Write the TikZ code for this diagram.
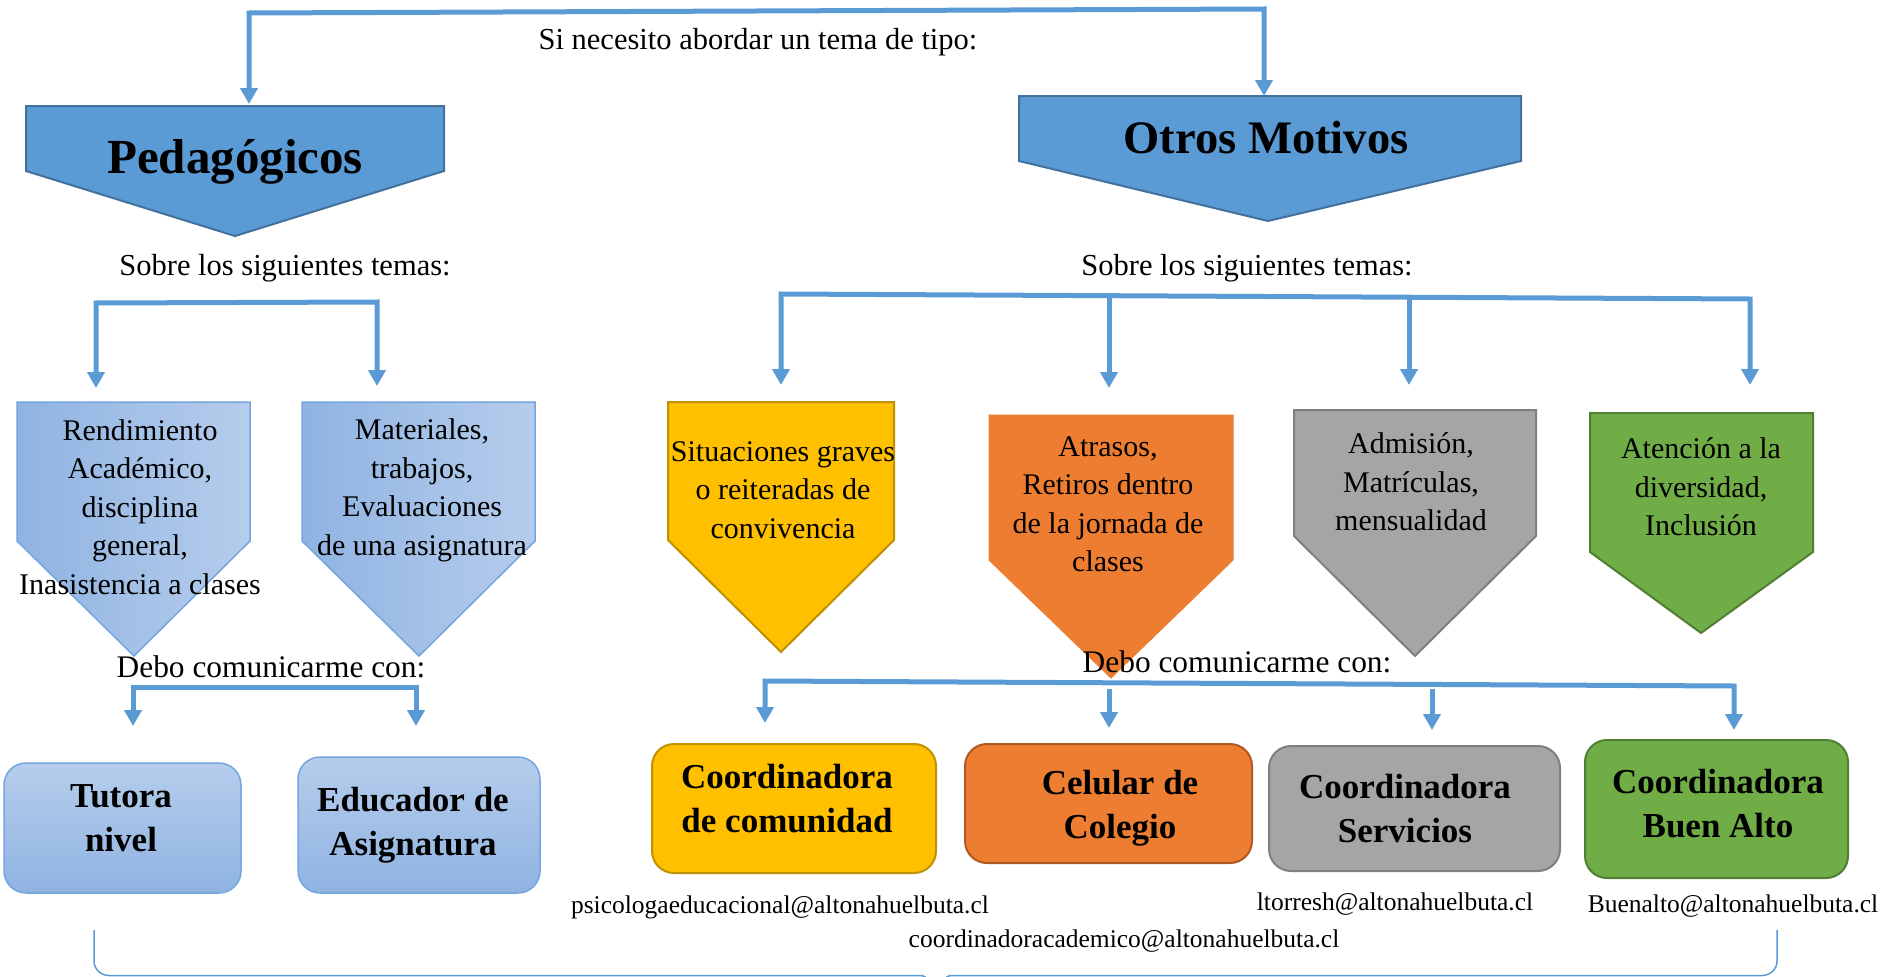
\documentclass[tikz,border=0pt]{standalone}
\usepackage{fontspec}
\setmainfont{Liberation Serif}
\usetikzlibrary{arrows.meta}
\definecolor{acc}{HTML}{5B9BD5}
\definecolor{accD}{HTML}{41719C}
\definecolor{lbA}{HTML}{8FB3E2}
\definecolor{lbB}{HTML}{B6CDEC}
\definecolor{lbE}{HTML}{74A5DE}
\definecolor{yel}{HTML}{FFC000}
\definecolor{yelD}{HTML}{BF9000}
\definecolor{ora}{HTML}{ED7D31}
\definecolor{oraD}{HTML}{AE5A21}
\definecolor{gry}{HTML}{A5A5A5}
\definecolor{gryD}{HTML}{7F7F7F}
\definecolor{grn}{HTML}{70AD47}
\definecolor{grnD}{HTML}{507E32}
\newcommand\fsz[2]{\fontsize{#1}{#2}\selectfont}
\begin{document}
\begin{tikzpicture}[x=1pt,y=-1pt,
  conn/.style={draw=acc,line width=5pt},
  tip/.tip={Triangle[width=17pt,length=16pt]},
  arr/.style={conn,-tip},
  arrb/.style={conn,tip-tip},
  lbl/.style={inner sep=0pt,anchor=base,font=\fsz{30.5}{37}},
  ptext/.style={inner sep=0pt,align=center,font=\fsz{30}{38.5}},
  btext/.style={inner sep=0pt,align=center,font=\fsz{35}{44}\bfseries},
  mail/.style={inner sep=0pt,anchor=base,font=\fsz{25.5}{30}},
  rbox/.style={rounded corners=22pt,line width=2pt,inner sep=0pt},
  lgrad/.style={left color=lbA,right color=lbB,draw=lbE,line width=1.5pt},
]
\useasboundingbox (0,0) rectangle (1885,977);
\fill[white] (0,0) rectangle (1885,977);

% header pentagons
\filldraw[fill=acc,draw=accD,line width=2pt] (26,106) -- (444,106) -- (444,171) -- (235,236) -- (26,171) -- cycle;
\filldraw[fill=acc,draw=accD,line width=2pt] (1019,96) -- (1521,96) -- (1521,161) -- (1268,221) -- (1019,161) -- cycle;

% topic pentagons
\path[lgrad] (17,402) -- (250,402) -- (250,541) -- (134,656) -- (17,541) -- cycle;
\path[lgrad] (302,402) -- (535,402) -- (535,541) -- (419,656) -- (302,541) -- cycle;
\filldraw[fill=yel,draw=yelD,line width=2pt] (668,402) -- (894,402) -- (894,540) -- (781,652) -- (668,540) -- cycle;
\filldraw[fill=ora,draw=ora,line width=1pt] (989,415) -- (1233,415) -- (1233,560) -- (1111,678) -- (989,560) -- cycle;
\filldraw[fill=gry,draw=gryD,line width=2pt] (1294,410) -- (1536,410) -- (1536,536) -- (1415,656) -- (1294,536) -- cycle;
\filldraw[fill=grn,draw=grnD,line width=2pt] (1590,413) -- (1813,413) -- (1813,552) -- (1701,633) -- (1590,552) -- cycle;

% contact boxes
\node[rbox,top color=lbB,bottom color=lbA,draw=lbE,line width=1.5pt,minimum width=237pt,minimum height=130pt] (btut) at (122.5,828) {};
\node[rbox,top color=lbB,bottom color=lbA,draw=lbE,line width=1.5pt,minimum width=242pt,minimum height=136pt] (bedu) at (419,825) {};
\node[rbox,fill=yel,draw=yelD,minimum width=284pt,minimum height=129pt] (bcom) at (794,808.5) {};
\node[rbox,fill=ora,draw=oraD,minimum width=287pt,minimum height=119pt] (bcel) at (1108.5,803.5) {};
\node[rbox,fill=gry,draw=gryD,minimum width=291pt,minimum height=125pt] (bser) at (1414.5,808.5) {};
\node[rbox,fill=grn,draw=grnD,minimum width=263pt,minimum height=138pt] (bbue) at (1716.5,809) {};

% connector coordinates
\coordinate (t1) at (249,13);   \coordinate (t2) at (1264,9);
\coordinate (pedA) at (249,104); \coordinate (otrA) at (1264,96);
\coordinate (s1) at (96,303);   \coordinate (s2) at (377,302);
\coordinate (p1A) at (96,388);  \coordinate (p2A) at (377,386);
\coordinate (r1) at (781,294);  \coordinate (r2) at (1109,296);
\coordinate (r3) at (1409,297); \coordinate (r4) at (1750,299);
\coordinate (yA) at (781,385);  \coordinate (oA) at (1109,388);
\coordinate (grA) at (1409,385); \coordinate (gA) at (1750,385);
\coordinate (d1) at (133,687);  \coordinate (d2) at (416,687);
\coordinate (tA) at (133,726);  \coordinate (eA) at (416,726);
\coordinate (e1) at (765,681);  \coordinate (e2) at (1109,689);
\coordinate (e3) at (1432,689); \coordinate (e4) at (1734,686);
\coordinate (cyA) at (765,723); \coordinate (coA) at (1109,728);
\coordinate (csA) at (1432,730); \coordinate (cgA) at (1734,730);

\draw[arrb] (pedA) -- (t1) -- (t2) -- (otrA);
\draw[arrb] (p1A) -- (s1) -- (s2) -- (p2A);
\draw[arrb] (yA) -- (r1) -- (r4) -- (gA);
\draw[arr] (r2) -- (oA);
\draw[arr] (r3) -- (grA);
\draw[arrb] (tA) -- (d1) -- (d2) -- (eA);
\draw[arrb] (cyA) -- (e1) -- (e4) -- (cgA);
\draw[arr] (e2) -- (coA);
\draw[arr] (e3) -- (csA);

% bottom brace
\draw[acc,line width=1.5pt] (94,930) -- (94,961) to[out=-90,in=180] (109,975.5) -- (920,975.5) to[out=0,in=90] (932,992);
\draw[acc,line width=1.5pt] (1777,930) -- (1777,961) to[out=-90,in=0] (1762,975.5) -- (952,975.5) to[out=180,in=90] (940,992);

% texts
\node[lbl] (q) at (758,49) {Si necesito abordar un tema de tipo:};
\node[inner sep=0pt,anchor=base,font=\fsz{49}{52}\bfseries] (ped) at (235,173) {Pedagógicos};
\node[inner sep=0pt,anchor=base,font=\fsz{46.6}{50}\bfseries] (otr) at (1266,153) {Otros Motivos};
\node[lbl] (sobL) at (285,275) {Sobre los siguientes temas:};
\node[lbl] (sobR) at (1247,275) {Sobre los siguientes temas:};
\node[lbl,font=\fsz{31.4}{37}] (debL) at (271,677) {Debo comunicarme con:};
\node[lbl,font=\fsz{31.4}{37}] (debR) at (1237,672) {Debo comunicarme con:};

\node[ptext] (p1t) at (140,507) {Rendimiento\\Académico,\\disciplina\\general,\\Inasistencia a clases};
\node[ptext] (p2t) at (422,490.5) {Materiales,\\trabajos,\\Evaluaciones\\de una asignatura};
\node[ptext] (yt) at (783,490) {Situaciones graves\\o reiteradas de\\convivencia};
\node[ptext] (ot) at (1108,504) {Atrasos,\\Retiros dentro\\de la jornada de\\clases};
\node[ptext] (grt) at (1411,482) {Admisión,\\Matrículas,\\mensualidad};
\node[ptext] (gt) at (1701,487) {Atención a la\\diversidad,\\Inclusión};

\node[btext] (tut) at (121,818.5) {Tutora\\nivel};
\node[btext] (edu) at (413,825) {Educador de\\Asignatura};
\node[btext] (com) at (787,798.5) {Coordinadora\\de comunidad};
\node[btext] (cel) at (1120,808) {Celular de\\Colegio};
\node[btext] (ser) at (1405,808.5) {Coordinadora\\Servicios};
\node[btext] (bue) at (1718,804) {Coordinadora\\Buen Alto};

\node[mail] (m1) at (780,913) {psicologaeducacional@altonahuelbuta.cl};
\node[mail] (m2) at (1124,947) {coordinadoracademico@altonahuelbuta.cl};
\node[mail] (m3) at (1395,910) {ltorresh@altonahuelbuta.cl};
\node[mail] (m4) at (1733,912) {Buenalto@altonahuelbuta.cl};
\end{tikzpicture}
\end{document}
